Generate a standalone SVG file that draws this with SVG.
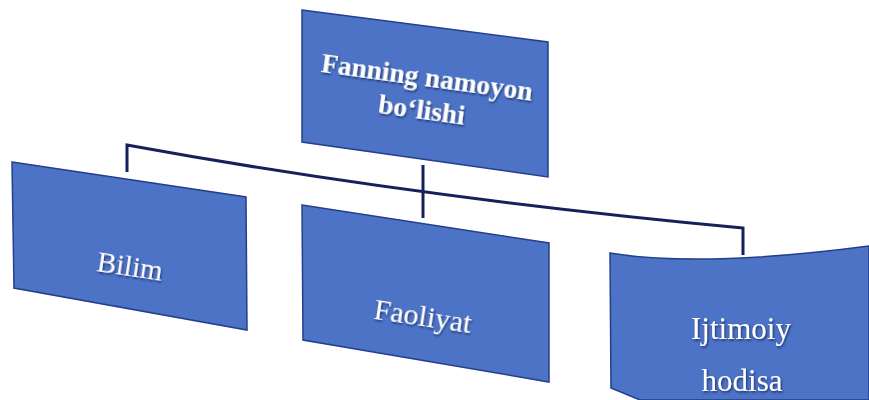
<svg xmlns="http://www.w3.org/2000/svg" width="869" height="400" viewBox="0 0 869 400">
<defs>
<filter id="sh" x="-10%" y="-30%" width="120%" height="160%">
<feDropShadow dx="1" dy="1.5" stdDeviation="0.8" flood-color="#10204a" flood-opacity="0.8"/>
</filter>
<style>
.box{fill:#4d73c7;stroke:#243f8c;stroke-width:1.5}
.conn{fill:none;stroke:#17205a;stroke-width:3;stroke-linejoin:miter}
.t{font-family:"Liberation Serif","Times New Roman",serif;fill:#ffffff;text-anchor:middle;filter:url(#sh)}
.b{font-weight:bold}
</style>
</defs>
<rect width="869" height="400" fill="#ffffff"/>
<g id="connectors">
<path class="conn" d="M127,172 L127,145 Q411,197 743,228 L743,255"/>
<path class="conn" d="M423,165 L423,218"/>
</g>
<g id="node-top">
<polygon class="box" points="302,10 548,42 548,177 302,142"/>
<g transform="rotate(7.8 423 100)">
<text class="t b" x="424" y="86" font-size="27.5">Fanning namoyon</text>
<text class="t b" x="423" y="119" font-size="27.5">bo‘lishi</text>
</g>
</g>
<g id="node-bilim">
<polygon class="box" points="12,162 246,197 247,330 14,288"/>
<text class="t" x="130" y="276" font-size="29" transform="rotate(8.5 130 266)">Bilim</text>
</g>
<g id="node-faoliyat">
<polygon class="box" points="302,205 549,243 549,382 303,340"/>
<text class="t" x="423" y="326" font-size="30" transform="rotate(8.5 423 316)">Faoliyat</text>
</g>
<g id="node-ijtimoiy">
<path class="box" d="M610,253 Q700,268 869,246 L869,400 L640,400 L611,388 Z"/>
<text class="t" x="741" y="339" font-size="31">Ijtimoiy</text>
<text class="t" x="742" y="391" font-size="31">hodisa</text>
</g>
</svg>
